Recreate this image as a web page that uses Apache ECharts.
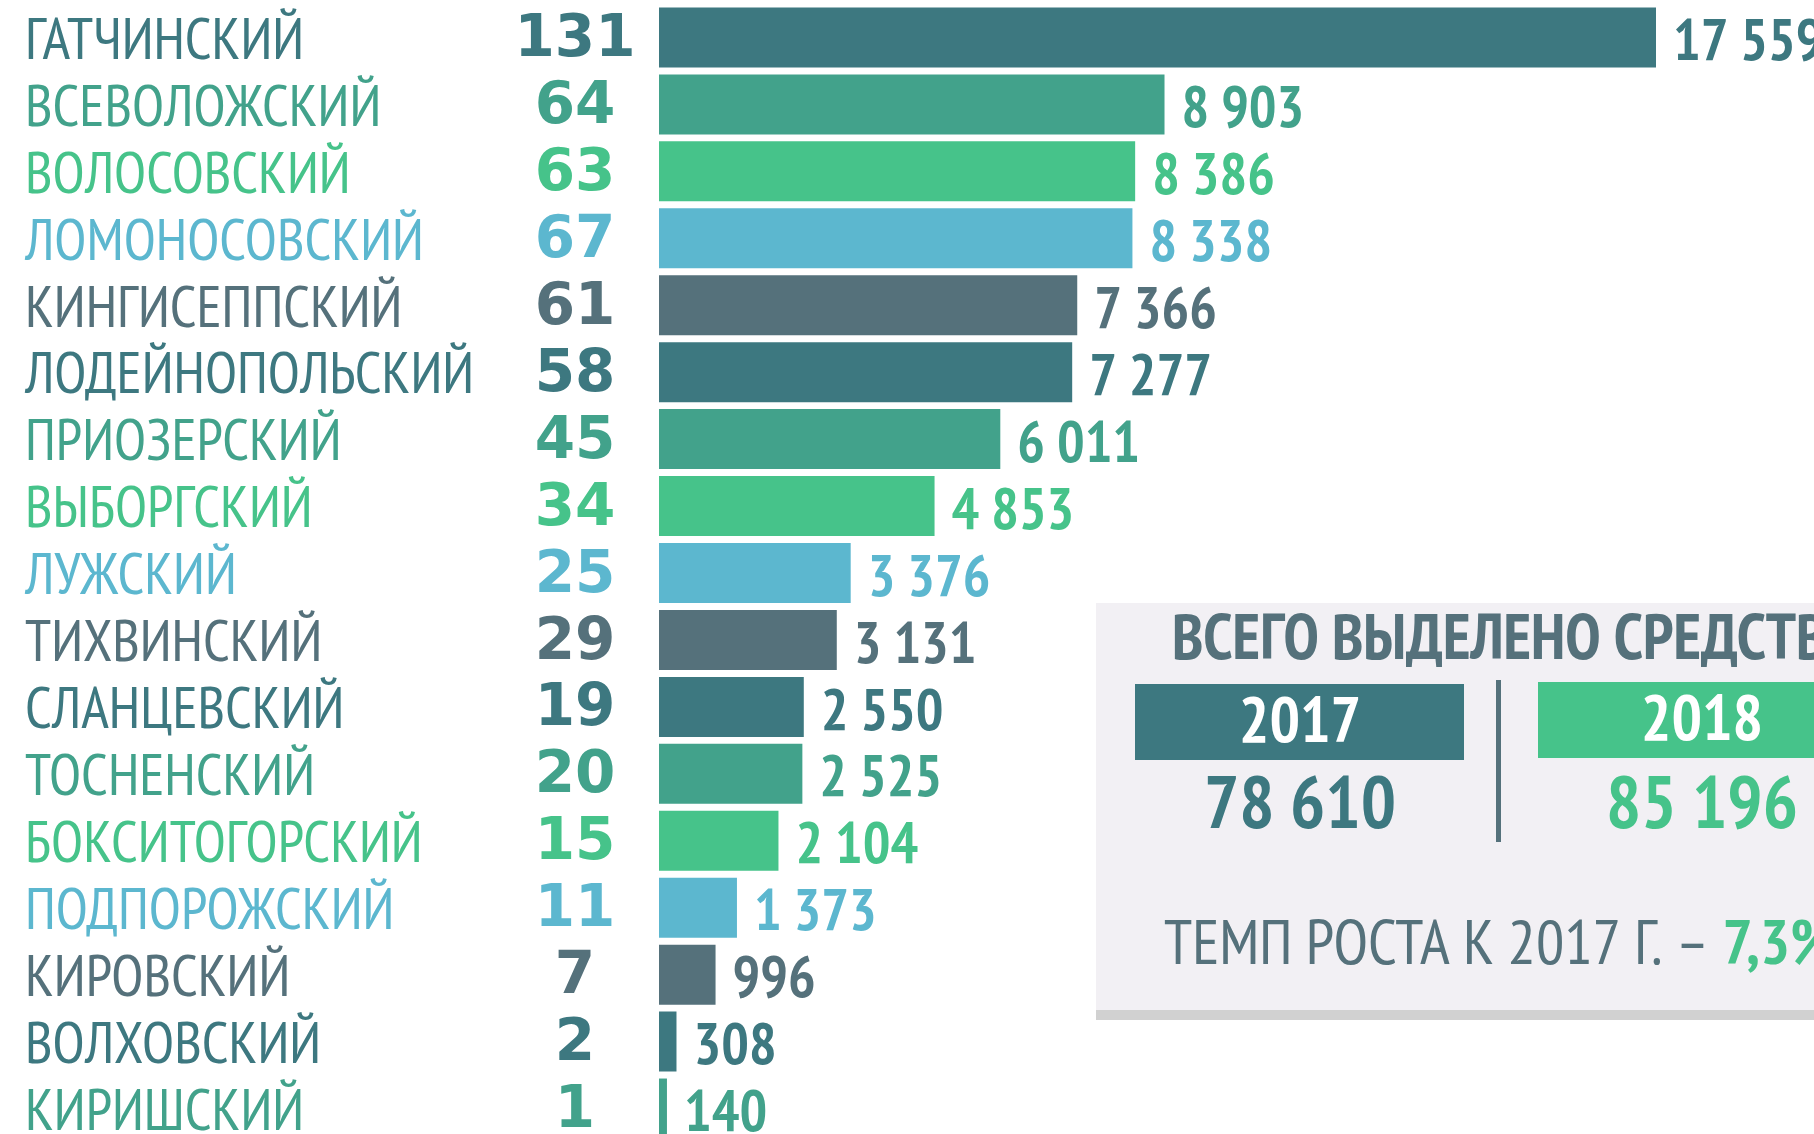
<!DOCTYPE html>
<html>
<head>
<meta charset="utf-8">
<script src="https://cdn.jsdelivr.net/npm/echarts@6/dist/echarts.min.js"></script>
<style>
  html, body { margin: 0; padding: 0; background: #fff; }
  #chart { width: 1814px; height: 1134px; }
</style>
</head>
<body>
<div id="chart"></div>
<script>
const districts = ["ГАТЧИНСКИЙ", "ВСЕВОЛОЖСКИЙ", "ВОЛОСОВСКИЙ", "ЛОМОНОСОВСКИЙ", "КИНГИСЕППСКИЙ",
  "ЛОДЕЙНОПОЛЬСКИЙ", "ПРИОЗЕРСКИЙ", "ВЫБОРГСКИЙ", "ЛУЖСКИЙ", "ТИХВИНСКИЙ", "СЛАНЦЕВСКИЙ",
  "ТОСНЕНСКИЙ", "БОКСИТОГОРСКИЙ", "ПОДПОРОЖСКИЙ", "КИРОВСКИЙ", "ВОЛХОВСКИЙ", "КИРИШСКИЙ"];
const counts = [131, 64, 63, 67, 61, 58, 45, 34, 25, 29, 19, 20, 15, 11, 7, 2, 1];
const amounts = [17559, 8903, 8386, 8338, 7366, 7277, 6011, 4853, 3376, 3131, 2550, 2525, 2104, 1373, 996, 308, 140];
const totalYears = ["2017", "2018"];
const totalAmounts = [78610, 85196];
const growthText = "7,3%";

const palette = ["#3d7880", "#42a28b", "#46c38a", "#5cb7cf", "#55717b"];
const narrow = "'PT Sans Narrow','Liberation Sans Narrow',sans-serif";

function fmt(v) {
  return String(v).replace(/\B(?=(\d{3})+(?!\d))/g, " ");
}

const rich = {};
palette.forEach((c, i) => { rich["c" + i] = { color: c }; });

const chart = echarts.init(document.getElementById("chart"));
chart.setOption({
  backgroundColor: "#ffffff",
  animation: false,
  grid: { left: 659, top: 4, width: 997, height: 1138, outerBoundsMode: "none" },
  xAxis: { type: "value", min: 0, max: 17559, show: false },
  yAxis: [
    {
      type: "category",
      inverse: true,
      data: districts,
      axisLine: { show: false },
      axisTick: { show: false },
      axisLabel: {
        interval: 0,
        margin: 634,
        align: "left",
        fontSize: 58.5,
        fontFamily: narrow,
        padding: [9, 0, 0, 0],
        formatter: (v, i) => "{c" + (i % 5) + "|" + v + "}",
        rich: rich
      }
    },
    {
      type: "category",
      inverse: true,
      position: "left",
      data: counts.map(String),
      axisLine: { show: false },
      axisTick: { show: false },
      axisLabel: {
        interval: 0,
        margin: 84,
        align: "center",
        fontSize: 58,
        fontWeight: "bold",
        fontFamily: "'DejaVu Sans', Verdana, sans-serif",
        padding: [7, 0, 0, 0],
        formatter: (v, i) => "{c" + (i % 5) + "|" + v + "}",
        rich: rich
      }
    }
  ],
  series: [{
    type: "bar",
    yAxisIndex: 0,
    data: amounts,
    barWidth: 60,
    itemStyle: { color: p => palette[p.dataIndex % 5] },
    label: {
      show: true,
      position: "right",
      distance: 17,
      offset: [0, 6],
      fontSize: 58,
      fontWeight: "bold",
      fontFamily: narrow,
      formatter: p => "{c" + (p.dataIndex % 5) + "|" + fmt(p.value) + "}",
      rich: rich
    }
  }],
  graphic: [
    { type: "rect", shape: { x: 1096, y: 603, width: 800, height: 407 }, style: { fill: "#f2f0f4" } },
    { type: "rect", shape: { x: 1096, y: 1010, width: 800, height: 10 }, style: { fill: "#d1d1d1" } },
    { type: "text", x: 1172, y: 641, style: { text: "ВСЕГО ВЫДЕЛЕНО СРЕДСТВ", fontSize: 64, fontWeight: "bold", fontFamily: narrow, fill: "#55717b", textVerticalAlign: "middle" } },
    { type: "rect", shape: { x: 1135, y: 684, width: 329, height: 76 }, style: { fill: "#3d7880" } },
    { type: "text", x: 1300, y: 724, style: { text: totalYears[0], fontSize: 64, fontWeight: "bold", fontFamily: narrow, fill: "#ffffff", textAlign: "center", textVerticalAlign: "middle" } },
    { type: "text", x: 1300, y: 807, style: { text: fmt(totalAmounts[0]), fontSize: 74, fontWeight: "bold", fontFamily: narrow, fill: "#3d7880", textAlign: "center", textVerticalAlign: "middle" } },
    { type: "rect", shape: { x: 1496, y: 680, width: 5, height: 162 }, style: { fill: "#55717b" } },
    { type: "rect", shape: { x: 1538, y: 682, width: 329, height: 76 }, style: { fill: "#46c38a" } },
    { type: "text", x: 1702, y: 722, style: { text: totalYears[1], fontSize: 64, fontWeight: "bold", fontFamily: narrow, fill: "#ffffff", textAlign: "center", textVerticalAlign: "middle" } },
    { type: "text", x: 1702, y: 807, style: { text: fmt(totalAmounts[1]), fontSize: 74, fontWeight: "bold", fontFamily: narrow, fill: "#46c38a", textAlign: "center", textVerticalAlign: "middle" } },
    { type: "text", x: 1164, y: 946, style: {
        text: "{a|ТЕМП РОСТА К 2017 Г. – }{b|" + growthText + "}",
        textVerticalAlign: "middle",
        rich: {
          a: { fontSize: 63, fontFamily: narrow, fill: "#55717b" },
          b: { fontSize: 63, fontWeight: "bold", fontFamily: narrow, fill: "#46c38a" }
        }
      } }
  ]
});
</script>
</body>
</html>
